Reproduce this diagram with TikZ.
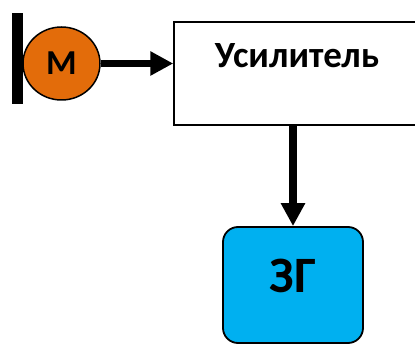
\documentclass[tikz,border=0pt]{standalone}
\usepackage{fontspec}
\setmainfont{Carlito}
\usetikzlibrary{arrows.meta,shapes.geometric,positioning}
\definecolor{MotorOrange}{RGB}{227,108,10}
\definecolor{GenBlue}{RGB}{0,176,240}

\begin{document}
\begin{tikzpicture}[x=1pt, y=-1pt, font=\bfseries,
  blk/.style={draw=black, line width=1.5pt, fill=white, inner sep=0pt,
              minimum width=246pt, minimum height=103pt, text height=24pt, text depth=35pt},
  gen/.style={draw=black, line width=1.8pt, fill=GenBlue, rounded corners=15pt, inner sep=0pt,
              minimum width=140pt, minimum height=116pt, text height=33pt, text depth=17pt},
  mot/.style={ellipse, draw=black, line width=1.5pt, fill=MotorOrange, inner sep=0pt,
              minimum width=77pt, minimum height=73pt},
  wall/.style={fill=black, inner sep=0pt, minimum width=11pt, minimum height=91pt},
  sig/.style={-{Triangle[width=23pt,length=23pt]}, line width=7.5pt}]

  \clip (0,0) rectangle (415,344);

  % --- motor on its mount ---
  \node[wall] (wall) at (17.5,58.5) {};
  \node[mot] (mot) at (61.5,63.5) {\fontsize{35}{37}\selectfont М};

  % --- amplifier and generator ---
  \node[blk] (amp) at (297,73.5) {\fontsize{37}{40}\selectfont Усилитель};
  \node[gen] (zg) at (293,285) {\fontsize{51}{54}\selectfont ЗГ};

  \draw[sig] (mot.east) -- (mot.east -| amp.west);
  \draw[sig] (zg.north |- amp.south) -- (zg.north);
\end{tikzpicture}
\end{document}
